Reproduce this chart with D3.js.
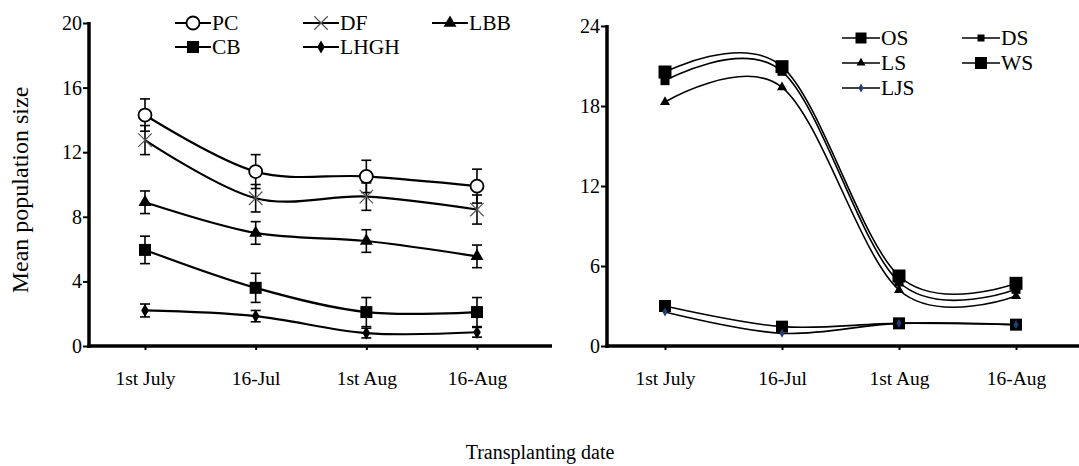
<html>
<head>
<script src="https://d3js.org/d3.v7.min.js"></script>
<style>
  body { margin: 0; background: #fff; }
  svg text { font-family: 'Liberation Serif', 'DejaVu Serif', serif; fill: #000; }
</style>
</head>
<body>
<svg id="chart" width="1079" height="466"></svg>
<script>
  var dates = ["1st July", "16-Jul", "1st Aug", "16-Aug"];

  // left panel: means and error
  var pc   = [14.3, 10.8, 10.5, 9.9];
  var df   = [12.75, 9.15, 9.25, 8.45];
  var lbb  = [8.9, 7.0, 6.5, 5.55];
  var cb   = [5.95, 3.6, 2.1, 2.1];
  var lhgh = [2.2, 1.85, 0.8, 0.85];
  var pcErr   = [1.0, 1.05, 1.0, 1.05];
  var dfErr   = [0.9, 0.85, 0.85, 0.9];
  var lbbErr  = [0.7, 0.7, 0.7, 0.7];
  var cbErr   = [0.85, 0.9, 0.9, 0.9];
  var lhghErr = [0.4, 0.35, 0.3, 0.3];
  var leftTicks = [0, 4, 8, 12, 16, 20];

  // right panel
  var os  = [3.0, 1.45, 1.7, 1.6];
  var ds  = [19.9, 20.6, 4.8, 4.25];
  var ls  = [18.3, 19.4, 4.2, 3.75];
  var ws  = [20.55, 20.95, 5.25, 4.7];
  var ljs = [2.55, 0.95, 1.7, 1.6];
  var rightTicks = [0, 6, 12, 18, 24];

  var FONT = "'Liberation Serif', 'DejaVu Serif', serif";
  var svg = d3.select("#chart");

  function marker(g, type, size, fill) {
    if (type == "circle") {
      g.append("circle").attr("r", size).attr("fill", "#fff").attr("stroke", "#000").attr("stroke-width", 1.8);
    } else if (type == "cross") {
      g.append("path").attr("d", d3.symbol(d3.symbolX, size * size * 1.2)())
        .attr("stroke", "#555").attr("stroke-width", 1.2).attr("fill", "none");
    } else {
      var sym = { square: d3.symbolSquare, triangle: d3.symbolTriangle, diamond: d3.symbolDiamond }[type];
      // size = approx width in px
      var area = type == "square" ? size * size : type == "triangle" ? size * size * 0.433 : size * size * 0.35;
      g.append("path").attr("d", d3.symbol(sym, area)()).attr("fill", fill || "#000");
    }
  }

  function panel(opts) {
    var x = d3.scalePoint().domain(dates).range(opts.xr);
    var y = d3.scaleLinear().domain(opts.yd).range([346, opts.ytop]);
    var g = svg.append("g");

    var line = d3.line()
      .x(function(d, i) { return x(dates[i]); })
      .y(function(d) { return y(d); })
      .curve(d3.curveCardinal.tension(0));

    opts.series.forEach(function(s) {
      g.append("path").datum(s.values)
        .attr("d", line).attr("fill", "none")
        .attr("stroke", "#000").attr("stroke-width", opts.lw);

      if (s.err) {
        s.values.forEach(function(v, i) {
          var cx = x(dates[i]);
          var y0 = y(v - s.err[i]), y1 = y(v + s.err[i]);
          g.append("line").attr("x1", cx).attr("x2", cx).attr("y1", y0).attr("y2", y1)
            .attr("stroke", "#000").attr("stroke-width", 1.6);
          [y0, y1].forEach(function(yy) {
            g.append("line").attr("x1", cx - 5).attr("x2", cx + 5).attr("y1", yy).attr("y2", yy)
              .attr("stroke", "#000").attr("stroke-width", 1.6);
          });
        });
      }
      s.values.forEach(function(v, i) {
        var m = g.append("g").attr("transform", "translate(" + x(dates[i]) + "," + y(v) + ")");
        marker(m, s.type, s.size, s.fill);
      });
    });

    // axes
    var yAxis = d3.axisLeft(y).tickValues(opts.ticks).tickSize(6).tickPadding(1);
    var ya = g.append("g").attr("transform", "translate(" + opts.x0 + ",0)").call(yAxis)
      .attr("font-family", FONT);
    ya.select(".domain").remove();
    ya.append("line").attr("x1", 0).attr("x2", 0).attr("y1", y(opts.yd[1]) - 1).attr("y2", 348)
      .attr("stroke", "#000").attr("stroke-width", 3.5);
    ya.selectAll(".tick line").attr("stroke-width", 2);
    ya.selectAll(".tick text").style("font-size", "20px").attr("fill", "#000");

    var xAxis = d3.axisBottom(x).tickSize(4).tickPadding(21);
    var xa = g.append("g").attr("transform", "translate(0,346)").call(xAxis)
      .attr("font-family", FONT);
    xa.select(".domain").remove();
    xa.append("line").attr("x1", opts.x0 - 1.5).attr("x2", opts.x1).attr("y1", 0).attr("y2", 0)
      .attr("stroke", "#000").attr("stroke-width", 3.5);
    xa.selectAll(".tick line").attr("stroke-width", 2);
    xa.selectAll(".tick text").style("font-size", "19.5px").attr("fill", "#000");

    // legend
    opts.series.forEach(function(s, i) {
      var lx = opts.legX[i % opts.legCols], ly = opts.legY + Math.floor(i / opts.legCols) * opts.legDy;
      var lg = svg.append("g").attr("transform", "translate(" + lx + "," + ly + ")");
      lg.append("line").attr("x1", 0).attr("x2", opts.legW).attr("stroke", "#000").attr("stroke-width", opts.lw);
      var m = lg.append("g").attr("transform", "translate(" + (opts.legW / 2) + ",0)");
      marker(m, s.type, s.legSize || s.size, s.fill);
      lg.append("text").attr("x", opts.legW + 1).attr("y", 7).style("font-size", "21.5px").text(s.name);
    });
  }

  panel({
    xr: [145, 477], x0: 89, x1: 552, yd: [0, 20], ytop: 23, ticks: leftTicks, lw: 2.2,
    legX: [175, 303, 432], legY: 23, legDy: 24, legCols: 3, legW: 36,
    series: [
      { name: "PC", values: pc, err: pcErr, type: "circle", size: 6.5 },
      { name: "DF", values: df, err: dfErr, type: "cross", size: 10 },
      { name: "LBB", values: lbb, err: lbbErr, type: "triangle", size: 13 },
      { name: "CB", values: cb, err: cbErr, type: "square", size: 12 },
      { name: "LHGH", values: lhgh, err: lhghErr, type: "diamond", size: 12 }
    ]
  });

  panel({
    xr: [665, 1016], x0: 607, x1: 1079, yd: [0, 24], ytop: 26, ticks: rightTicks, lw: 1.6,
    legX: [842, 962], legY: 38, legDy: 25, legCols: 2, legW: 38,
    series: [
      { name: "OS", values: os, type: "square", size: 12, legSize: 11 },
      { name: "DS", values: ds, type: "square", size: 9, legSize: 7 },
      { name: "LS", values: ls, type: "triangle", size: 10, legSize: 9 },
      { name: "WS", values: ws, type: "square", size: 13, legSize: 12 },
      { name: "LJS", values: ljs, type: "diamond", size: 8, fill: "#1f3f7a", legSize: 8 }
    ]
  });

  svg.append("text").attr("transform", "translate(28,190) rotate(-90)")
    .attr("text-anchor", "middle").style("font-size", "24px").text("Mean population size");
  svg.append("text").attr("x", 540).attr("y", 459)
    .attr("text-anchor", "middle").style("font-size", "20px").text("Transplanting date");
</script>
</body>
</html>
